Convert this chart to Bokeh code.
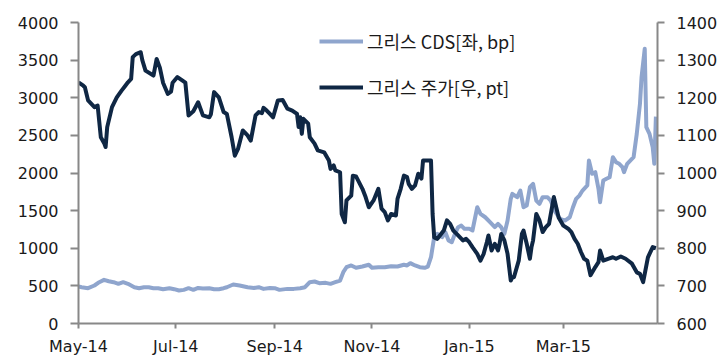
from datetime import datetime
import pandas as pd
from bokeh.plotting import figure
from bokeh.models import (Range1d, LinearAxis, Legend, LegendItem, FixedTicker,
                          DatetimeTickFormatter)
from bokeh.embed import file_html
from bokeh.resources import INLINE

# ---- data ----
cds_dates = [
    "2014-05-01", "2014-05-03", "2014-05-07", "2014-05-11", "2014-05-14", "2014-05-17",
    "2014-05-20", "2014-05-23", "2014-05-26", "2014-05-29", "2014-06-01", "2014-06-05",
    "2014-06-08", "2014-06-11", "2014-06-14", "2014-06-17", "2014-06-20", "2014-06-23",
    "2014-06-27", "2014-06-30", "2014-07-03", "2014-07-06", "2014-07-09", "2014-07-12",
    "2014-07-15", "2014-07-18", "2014-07-22", "2014-07-25", "2014-07-28", "2014-07-31",
    "2014-08-02", "2014-08-06", "2014-08-10", "2014-08-15", "2014-08-19", "2014-08-22",
    "2014-08-25", "2014-08-29", "2014-09-01", "2014-09-04", "2014-09-09", "2014-09-13",
    "2014-09-17", "2014-09-20", "2014-09-23", "2014-09-26", "2014-09-29", "2014-10-03",
    "2014-10-06", "2014-10-09", "2014-10-12", "2014-10-14", "2014-10-16", "2014-10-19",
    "2014-10-22", "2014-10-26", "2014-10-30", "2014-11-01", "2014-11-05", "2014-11-09",
    "2014-11-13", "2014-11-17", "2014-11-21", "2014-11-23", "2014-11-25", "2014-11-28",
    "2014-12-01", "2014-12-04", "2014-12-06", "2014-12-08", "2014-12-10", "2014-12-12",
    "2014-12-15", "2014-12-17", "2014-12-19", "2014-12-21", "2014-12-23", "2014-12-25",
    "2014-12-27", "2014-12-29", "2015-01-01", "2015-01-03", "2015-01-06", "2015-01-08",
    "2015-01-11", "2015-01-14", "2015-01-17", "2015-01-19", "2015-01-21", "2015-01-23",
    "2015-01-25", "2015-01-27", "2015-01-28", "2015-01-31", "2015-02-02", "2015-02-04",
    "2015-02-06", "2015-02-08", "2015-02-10", "2015-02-12", "2015-02-14", "2015-02-16",
    "2015-02-19", "2015-02-21", "2015-02-24", "2015-02-27", "2015-03-02", "2015-03-05",
    "2015-03-07", "2015-03-09", "2015-03-11", "2015-03-13", "2015-03-16", "2015-03-17",
    "2015-03-19", "2015-03-21", "2015-03-23", "2015-03-24", "2015-03-26", "2015-03-28",
    "2015-03-30", "2015-04-01", "2015-04-03", "2015-04-05", "2015-04-07", "2015-04-08",
    "2015-04-10", "2015-04-14", "2015-04-16", "2015-04-18", "2015-04-19", "2015-04-21",
    "2015-04-22", "2015-04-24", "2015-04-26", "2015-04-27", "2015-04-28",
]
cds_values = [
    491, 482, 469, 505, 549, 580,
    562, 549, 527, 549, 527, 482,
    469, 482, 482, 469, 469, 456,
    469, 456, 438, 447, 469, 447,
    473, 465, 469, 456, 456, 469,
    482, 518, 505, 482, 473, 482,
    460, 473, 469, 447, 460, 460,
    469, 482, 549, 558, 536, 540,
    527, 549, 571, 682, 748, 771,
    740, 757, 780, 740, 748, 748,
    762, 757, 780, 771, 802, 771,
    748, 740, 757, 881, 1147, 1191,
    1147, 1213, 1103, 1080, 1191, 1280,
    1302, 1258, 1258, 1236, 1545, 1457,
    1412, 1346, 1280, 1324, 1280, 1191,
    1368, 1657, 1723, 1678, 1767, 1545,
    1567, 1811, 1856, 1634, 1590, 1678,
    1678, 1634, 1479, 1390, 1368, 1412,
    1545, 1657, 1700, 1767, 1834, 2166,
    1989, 2011, 1790, 1612, 1900, 1923,
    1944, 2210, 2144, 2122, 2078, 2011,
    2122, 2210, 2520, 2919, 3273, 3650,
    2609, 2520, 2343, 2122, 2750,
]

stock_dates = [
    "2014-05-01", "2014-05-04", "2014-05-05", "2014-05-07", "2014-05-11", "2014-05-13",
    "2014-05-15", "2014-05-17", "2014-05-18", "2014-05-19", "2014-05-22", "2014-05-25",
    "2014-05-28", "2014-05-30", "2014-06-01", "2014-06-03", "2014-06-04", "2014-06-06",
    "2014-06-09", "2014-06-10", "2014-06-12", "2014-06-17", "2014-06-19", "2014-06-21",
    "2014-06-23", "2014-06-26", "2014-06-28", "2014-06-29", "2014-07-02", "2014-07-05",
    "2014-07-07", "2014-07-09", "2014-07-12", "2014-07-15", "2014-07-18", "2014-07-22",
    "2014-07-23", "2014-07-25", "2014-07-28", "2014-07-31", "2014-08-02", "2014-08-05",
    "2014-08-07", "2014-08-09", "2014-08-12", "2014-08-15", "2014-08-17", "2014-08-20",
    "2014-08-22", "2014-08-24", "2014-08-25", "2014-08-27", "2014-08-29", "2014-08-31",
    "2014-09-03", "2014-09-06", "2014-09-09", "2014-09-12", "2014-09-15", "2014-09-16",
    "2014-09-17", "2014-09-18", "2014-09-19", "2014-09-22", "2014-09-23", "2014-09-26",
    "2014-09-28", "2014-10-02", "2014-10-05", "2014-10-06", "2014-10-08", "2014-10-09",
    "2014-10-12", "2014-10-13", "2014-10-15", "2014-10-16", "2014-10-19", "2014-10-20",
    "2014-10-22", "2014-10-26", "2014-10-28", "2014-10-30", "2014-11-02", "2014-11-05",
    "2014-11-07", "2014-11-09", "2014-11-11", "2014-11-13", "2014-11-16", "2014-11-17",
    "2014-11-19", "2014-11-21", "2014-11-23", "2014-11-24", "2014-11-26", "2014-11-28",
    "2014-11-30", "2014-12-02", "2014-12-03", "2014-12-08", "2014-12-09", "2014-12-10",
    "2014-12-12", "2014-12-16", "2014-12-18", "2014-12-20", "2014-12-22", "2014-12-25",
    "2014-12-28", "2014-12-30", "2015-01-01", "2015-01-03", "2015-01-06", "2015-01-08",
    "2015-01-10", "2015-01-12", "2015-01-13", "2015-01-15", "2015-01-17", "2015-01-19",
    "2015-01-20", "2015-01-21", "2015-01-23", "2015-01-25", "2015-01-27", "2015-01-28",
    "2015-01-29", "2015-02-01", "2015-02-03", "2015-02-04", "2015-02-06", "2015-02-08",
    "2015-02-09", "2015-02-10", "2015-02-12", "2015-02-14", "2015-02-16", "2015-02-18",
    "2015-02-20", "2015-02-23", "2015-02-26", "2015-03-01", "2015-03-04", "2015-03-06",
    "2015-03-08", "2015-03-10", "2015-03-12", "2015-03-14", "2015-03-16", "2015-03-18",
    "2015-03-21", "2015-03-23", "2015-03-24", "2015-03-26", "2015-03-29", "2015-04-01",
    "2015-04-03", "2015-04-06", "2015-04-09", "2015-04-13", "2015-04-16", "2015-04-18",
    "2015-04-20", "2015-04-21", "2015-04-23", "2015-04-26", "2015-04-28",
]
stock_values = [
    1241, 1232, 1228, 1193, 1175, 1179,
    1095, 1080, 1069, 1122, 1175, 1201,
    1219, 1230, 1241, 1250, 1308, 1316,
    1321, 1300, 1272, 1259, 1303, 1280,
    1240, 1210, 1216, 1240, 1255, 1246,
    1240, 1153, 1164, 1188, 1153, 1148,
    1156, 1215, 1201, 1162, 1157, 1095,
    1046, 1064, 1113, 1100, 1086, 1153,
    1162, 1159, 1173, 1166, 1157, 1148,
    1193, 1194, 1171, 1166, 1157, 1122,
    1148, 1104, 1144, 1131, 1095, 1078,
    1060, 1055, 1033, 1011, 1020, 1007,
    1002, 891, 869, 927, 940, 993,
    991, 958, 936, 909, 927, 958,
    905, 896, 874, 891, 887, 931,
    958, 993, 989, 971, 958, 967,
    998, 985, 1033, 1033, 891, 829,
    825, 847, 874, 865, 847, 834,
    821, 825, 816, 803, 785, 767,
    785, 816, 834, 794, 812, 794,
    812, 838, 821, 785, 714, 723,
    723, 767, 838, 847, 812, 772,
    803, 821, 891, 874, 843, 856,
    865, 936, 882, 860, 852, 843,
    825, 812, 790, 772, 767, 728,
    750, 763, 794, 767, 772, 776,
    772, 778, 772, 759, 736, 732,
    710, 732, 776, 803, 800,
]

x_tick_dates = ["2014-05-01", "2014-07-01", "2014-09-01", "2014-11-01", "2015-01-01", "2015-03-01"]
left_ticks = [0, 500, 1000, 1500, 2000, 2500, 3000, 3500, 4000]
right_ticks = [600, 700, 800, 900, 1000, 1100, 1200, 1300, 1400]
series_labels = ["그리스 CDS[좌, bp]", "그리스 주가[우, pt]"]

LIGHT = "#8fa5cd"
DARK = "#0f2744"
AXIS = "#888888"
TEXT = "#1a1a1a"

p = figure(width=720, height=358, x_axis_type="datetime",
           x_range=Range1d(start=datetime(2014, 5, 1), end=datetime(2015, 4, 29)),
           y_range=Range1d(0, 4000),
           output_backend="svg", toolbar_location=None,
           min_border_left=78, min_border_right=62, min_border_top=22, min_border_bottom=30)
p.extra_y_ranges = {"right": Range1d(600, 1400)}
p.xgrid.visible = False
p.ygrid.visible = False
p.outline_line_color = None
p.background_fill_color = "white"
p.border_fill_color = "white"


def style_axis(ax, tick_out=7):
    ax.axis_line_color = AXIS
    ax.axis_line_width = 2
    ax.major_tick_line_color = AXIS
    ax.major_tick_line_width = 2
    ax.major_tick_out = tick_out
    ax.major_tick_in = 0
    ax.minor_tick_line_color = None
    ax.major_label_text_font = "DejaVu Sans"
    ax.major_label_text_font_size = "16px"
    ax.major_label_text_color = TEXT


tick_ms = [pd.Timestamp(d).value / 1e6 for d in x_tick_dates]
p.xaxis.ticker = FixedTicker(ticks=tick_ms)
p.xaxis.formatter = DatetimeTickFormatter(days="%b-%y", months="%b-%y", years="%b-%y")
style_axis(p.xaxis[0], tick_out=5)
p.xaxis.major_label_standoff = 8

p.yaxis.ticker = FixedTicker(ticks=left_ticks)
style_axis(p.yaxis[0], tick_out=8)
p.yaxis.major_label_standoff = 12

raxis = LinearAxis(y_range_name="right", ticker=FixedTicker(ticks=right_ticks))
style_axis(raxis, tick_out=7)
raxis.major_label_standoff = 12
p.add_layout(raxis, "right")

r1 = p.line(x=pd.to_datetime(cds_dates), y=cds_values, line_color=LIGHT,
            line_width=4, line_join="round")
r2 = p.line(x=pd.to_datetime(stock_dates), y=stock_values, line_color=DARK,
            line_width=4, line_join="round", y_range_name="right")

legend = Legend(items=[LegendItem(label=series_labels[0], renderers=[r1]),
                       LegendItem(label=series_labels[1], renderers=[r2])],
                location=(241, 223), orientation="vertical",
                glyph_width=44, glyph_height=20, label_height=20,
                label_standoff=4, spacing=20, padding=0, margin=0,
                border_line_color=None, background_fill_alpha=0,
                label_text_font="Noto Sans CJK KR", label_text_font_size="18px",
                label_text_color=TEXT)
p.add_layout(legend)

open("out.html", "w").write(file_html(p, INLINE))
